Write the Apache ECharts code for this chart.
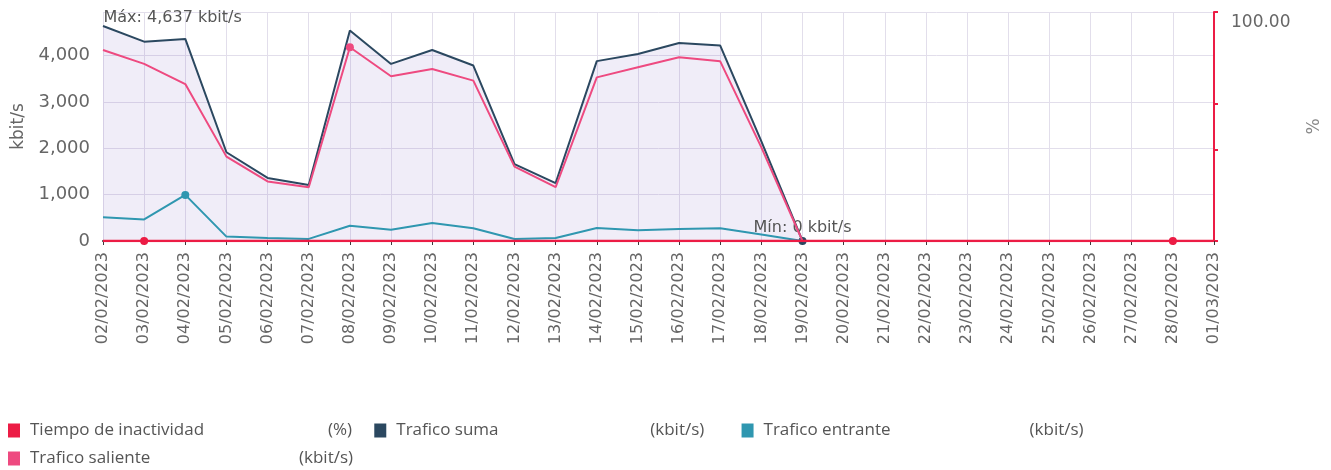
<!DOCTYPE html>
<html>
<head>
<meta charset="utf-8">
<script src="https://cdn.jsdelivr.net/npm/echarts@6/dist/echarts.min.js"></script>
<style>
  html, body { margin: 0; padding: 0; background: #fff; }
  #chart { width: 1331px; height: 470px; }
</style>
</head>
<body>
<div id="chart"></div>
<script>
// dias del periodo
const dates = ['02/02/2023', '03/02/2023', '04/02/2023', '05/02/2023', '06/02/2023', '07/02/2023',
  '08/02/2023', '09/02/2023', '10/02/2023', '11/02/2023', '12/02/2023', '13/02/2023', '14/02/2023',
  '15/02/2023', '16/02/2023', '17/02/2023', '18/02/2023', '19/02/2023', '20/02/2023', '21/02/2023',
  '22/02/2023', '23/02/2023', '24/02/2023', '25/02/2023', '26/02/2023', '27/02/2023', '28/02/2023',
  '01/03/2023']

// kbit/s
const traficoSuma = [4637, 4300, 4360, 1915, 1360, 1210, 4540, 3820, 4120, 3785, 1660, 1250, 3880,
  4035, 4270, 4215, 2150, 0, null, null, null, null, null, null, null, null, null, null]
const traficoSaliente = [4120, 3820, 3385, 1820, 1285, 1160, 4180, 3555, 3710, 3460, 1605, 1160, 3530,
  3750, 3965, 3875, 2020, 0, null, null, null, null, null, null, null, null, null, null]
const traficoEntrante = [510, 465, 995, 95, 65, 45, 330, 245, 390, 275, 45, 65, 280,
  230, 260, 275, 140, 0, null, null, null, null, null, null, null, null, null, null]
// %
const tiempoInactividad = [0, 0, 0, 0, 0, 0, 0, 0, 0, 0, 0, 0, 0, 0, 0, 0, 0, 0, 0, 0, 0, 0, 0, 0, 0, 0, 0, 0]

const leftTicks = [0, 1000, 2000, 3000, 4000]
const rightTicks = [0, 40, 60, 100]

// dias donde PRTG pinta el marcador de cada canal
const markInactividad = [1, 26]
const markSuma = [17]
const markEntrante = [2]
const markSaliente = [6]

const legendNames = ['Tiempo de inactividad', 'Trafico suma', 'Trafico entrante', 'Trafico saliente']
const units = ['(%)', '(kbit/s)', '(kbit/s)', '(kbit/s)']

const FONT = 'DejaVu Sans'
const GREY = '#666'

function withMarks (values, idx) {
  return values.map(function (v, i) {
    if (idx.indexOf(i) >= 0) {
      return { value: v, symbolSize: 8 }
    }
    return v
  })
}

// anchos de las columnas de la leyenda (nombre, unidad + hueco)
const nameW = [298, 254, 266, 269]
const unitW = [35, 80, 58, 59]
const legendRich = { p: { width: 5 }, z: { width: 1, fontSize: 1, color: 'rgba(0,0,0,0)' } }
nameW.forEach(function (w, i) {
  legendRich['n' + i] = { width: w, fontFamily: 'Open Sans', fontSize: 17, color: '#555' }
  legendRich['u' + i] = { width: unitW[i], fontFamily: 'Open Sans', fontSize: 17, color: '#555' }
})

const chart = echarts.init(document.getElementById('chart'))
chart.setOption({
  animation: false,
  grid: { left: 103, right: 115, top: 12, bottom: 229 },
  legend: {
    left: 8,
    top: 422,
    padding: 0,
    width: 1110,
    orient: 'horizontal',
    icon: 'rect',
    itemWidth: 12,
    itemHeight: 14,
    itemGap: 11,
    data: legendNames,
    formatter: function (name) {
      const i = legendNames.indexOf(name)
      return '{p| }{n' + i + '|' + name + '}{u' + i + '|' + units[i] + '}{z|.}'
    },
    textStyle: { rich: legendRich }
  },
  xAxis: {
    type: 'category',
    data: dates,
    boundaryGap: false,
    offset: 5,
    axisLine: { lineStyle: { color: '#3a3a3a', width: 2 } },
    axisTick: { show: true, length: 4, lineStyle: { color: '#3a3a3a' } },
    axisLabel: { rotate: 90, interval: 0, margin: 6, fontFamily: FONT, fontSize: 16, color: GREY },
    splitLine: { show: true, lineStyle: { color: '#e2deeb', width: 1 } }
  },
  yAxis: [
    {
      type: 'value',
      min: 0,
      max: 4940,
      interval: 1000,
      name: 'kbit/s',
      nameLocation: 'middle',
      nameGap: 74,
      nameTextStyle: { fontFamily: FONT, fontSize: 17, color: GREY },
      axisLine: { show: false },
      axisTick: { show: false },
      axisLabel: {
        showMaxLabel: false,
        margin: 13,
        fontFamily: FONT,
        fontSize: 18,
        color: GREY,
        formatter: function (v) { return leftTicks.indexOf(v) >= 0 ? v.toLocaleString('en-US') : '' }
      },
      splitLine: { show: true, lineStyle: { color: '#e2deeb', width: 1 } }
    },
    {
      type: 'value',
      min: 0,
      max: 100,
      position: 'right',
      name: '%',
      nameLocation: 'middle',
      nameGap: 92,
      nameRotate: 90,
      nameTextStyle: { fontFamily: FONT, fontSize: 17, color: '#888' },
      axisLine: { show: true, lineStyle: { color: '#ec1c45', width: 2 } },
      axisTick: { show: true, length: 4, customValues: rightTicks, lineStyle: { color: '#ec1c45', width: 2 } },
      axisLabel: {
        margin: 17,
        verticalAlign: 'top',
        padding: [2, 0, 0, 0],
        fontFamily: FONT,
        fontSize: 17,
        color: GREY,
        customValues: [100],
        formatter: function (v) { return v === 100 ? v.toFixed(2) : '' }
      },
      splitLine: { show: false }
    }
  ],
  series: [
    {
      name: 'Trafico suma',
      type: 'line',
      yAxisIndex: 0,
      data: withMarks(traficoSuma, markSuma),
      symbol: 'circle',
      symbolSize: 0,
      itemStyle: { color: '#2b4860' },
      lineStyle: { color: '#2b4860', width: 2 },
      areaStyle: { color: 'rgba(120, 100, 190, 0.16)', origin: 'start' },
      z: 3,
      markPoint: {
        symbol: 'circle',
        symbolSize: 1,
        itemStyle: { color: 'rgba(0,0,0,0)' },
        data: [
          {
            type: 'max',
            label: {
              position: 'right',
              distance: 0,
              offset: [0, -8],
              fontFamily: FONT,
              fontSize: 16,
              color: '#555',
              formatter: function (p) { return 'Máx: ' + p.value.toLocaleString('en-US') + ' kbit/s' }
            }
          },
          {
            type: 'min',
            label: {
              position: 'top',
              distance: 5,
              fontFamily: FONT,
              fontSize: 16,
              color: '#555',
              formatter: function (p) { return 'Mín: ' + p.value + ' kbit/s' }
            }
          }
        ]
      }
    },
    {
      name: 'Trafico entrante',
      type: 'line',
      yAxisIndex: 0,
      data: withMarks(traficoEntrante, markEntrante),
      symbol: 'circle',
      symbolSize: 0,
      itemStyle: { color: '#2f97b0' },
      lineStyle: { color: '#2f97b0', width: 2 },
      z: 4
    },
    {
      name: 'Trafico saliente',
      type: 'line',
      yAxisIndex: 0,
      data: withMarks(traficoSaliente, markSaliente),
      symbol: 'circle',
      symbolSize: 0,
      itemStyle: { color: '#ee4a80' },
      lineStyle: { color: '#ee4a80', width: 2 },
      z: 5
    },
    {
      name: 'Tiempo de inactividad',
      type: 'line',
      yAxisIndex: 1,
      data: withMarks(tiempoInactividad, markInactividad),
      symbol: 'circle',
      symbolSize: 0,
      itemStyle: { color: '#ec1c45' },
      lineStyle: { color: '#ec1c45', width: 2.5 },
      z: 6
    }
  ]
})
</script>
</body>
</html>
